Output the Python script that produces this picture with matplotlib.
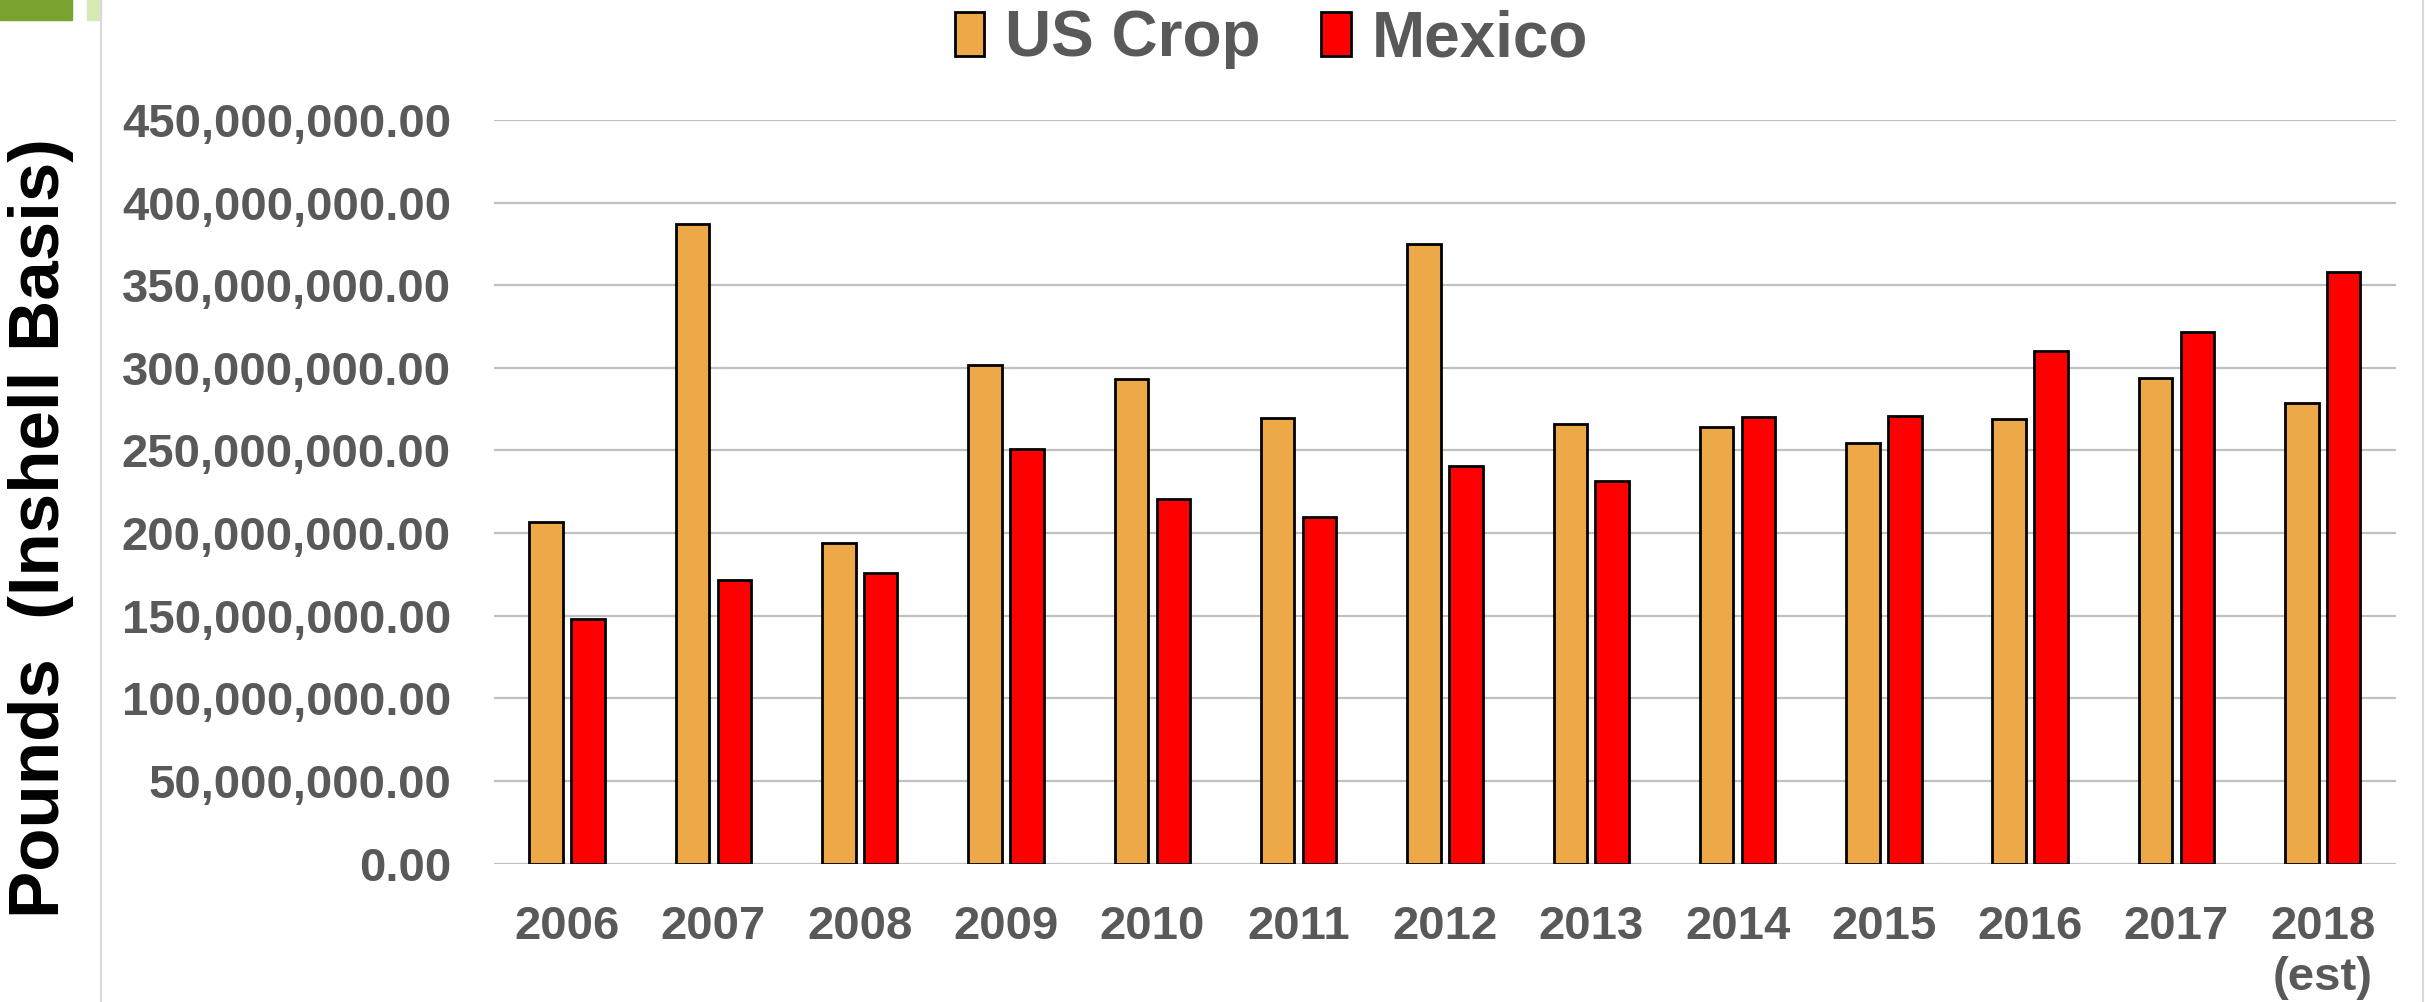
import matplotlib.pyplot as plt
import matplotlib.patches as patches
from matplotlib.ticker import FuncFormatter
import numpy as np

# Datos (libras, base con cáscara)
years = ["2006", "2007", "2008", "2009", "2010", "2011", "2012",
         "2013", "2014", "2015", "2016", "2017", "2018\n(est)"]
us_crop = [207e6, 387e6, 194e6, 302e6, 293.5e6, 269.5e6, 374.8e6,
           266e6, 264e6, 254.3e6, 269e6, 293.7e6, 278.8e6]
mexico = [148e6, 171.8e6, 176e6, 251e6, 220.5e6, 209.6e6, 240.6e6,
          231.3e6, 270e6, 270.7e6, 310e6, 322e6, 358.2e6]

plt.rcParams['font.family'] = ['Liberation Sans', 'DejaVu Sans']
plt.rcParams['font.weight'] = 'bold'

grey_txt = "#595959"
orange = "#EDA847"
red = "#FF0000"

fig = plt.figure(figsize=(24.25, 10.02), dpi=100)
ax = fig.add_axes([0.2037, 0.1382, 0.7843, 0.742])

x = np.arange(len(years))
w = 0.229
off = 0.143
ax.bar(x - off, us_crop, w, color=orange, edgecolor="black", linewidth=2, label="US Crop", zorder=3)
ax.bar(x + off, mexico, w, color=red, edgecolor="black", linewidth=2, label="Mexico", zorder=3)

ax.set_xlim(-0.5, len(years) - 0.5)
ax.set_ylim(0, 450e6)
ax.set_yticks(np.arange(0, 450e6 + 1, 50e6))
ax.yaxis.set_major_formatter(FuncFormatter(lambda v, p: f"{v:,.2f}"))
ax.set_xticks(x)
ax.set_xticklabels(years)
ax.grid(axis="y", color="#C0C0C0", linewidth=1.6, zorder=0)
ax.set_axisbelow(True)
for s in ax.spines.values():
    s.set_visible(False)
ax.tick_params(axis="both", length=0, labelsize=34, labelcolor=grey_txt)
ax.tick_params(axis="y", pad=31)
ax.tick_params(axis="x", pad=30)
for lbl in ax.get_xticklabels() + ax.get_yticklabels():
    lbl.set_fontweight("bold")

fig.text(41 / 2425, 1 - 528 / 1002, "Pounds  (Inshell Basis)", rotation=90,
         ha="center", va="center", fontsize=51, fontweight="bold", color="black")

leg = fig.legend(loc="center", bbox_to_anchor=(0.5243, 0.961), ncol=2, frameon=False,
                 handlelength=0.46, handleheight=0.69, handletextpad=0.33,
                 columnspacing=0.95, prop={"size": 46, "weight": "bold"})
for t in leg.get_texts():
    t.set_color(grey_txt)

# decoración de la diapositiva
fig.patches.append(patches.Rectangle((0, 1 - 20 / 1002), 72 / 2425, 20 / 1002,
                                     transform=fig.transFigure, color="#7AA22F"))
fig.patches.append(patches.Rectangle((87 / 2425, 1 - 20 / 1002), 14 / 2425, 20 / 1002,
                                     transform=fig.transFigure, color="#D4E9B3"))
fig.add_artist(plt.Line2D([101 / 2425, 101 / 2425], [0, 1], transform=fig.transFigure,
                          color="#D9D9D9", linewidth=1.5))
fig.add_artist(plt.Line2D([2423 / 2425, 2423 / 2425], [0, 1], transform=fig.transFigure,
                          color="#D9D9D9", linewidth=1.5))

plt.savefig("out.png", dpi=100)
